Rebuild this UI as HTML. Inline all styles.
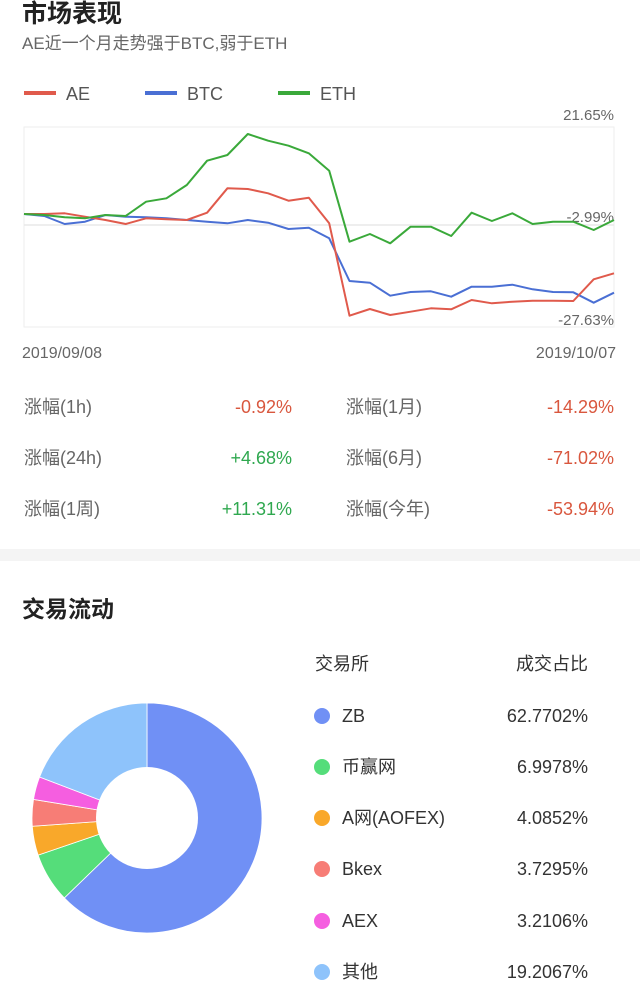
<!DOCTYPE html>
<html><head><meta charset="utf-8"><style>
body{margin:0;width:640px;height:983px;background:#fff;overflow:hidden;font-family:"Liberation Sans","Noto Sans CJK SC",sans-serif;}
svg{position:absolute;left:0;top:0}
</style></head><body>
<svg id="s" width="640" height="983" xmlns="http://www.w3.org/2000/svg" font-family="Liberation Sans, Noto Sans CJK SC, sans-serif">
<text x="22" y="22" font-size="25" font-weight="bold" fill="#222">市场表现</text>
<text x="22" y="49" font-size="17" fill="#666">AE近一个月走势强于BTC,弱于ETH</text>
<rect x="24" y="91" width="32" height="4" fill="#e05a4c"/><text x="66" y="100" font-size="18" fill="#555">AE</text>
<rect x="145" y="91" width="32" height="4" fill="#4a6fd4"/><text x="187" y="100" font-size="18" fill="#555">BTC</text>
<rect x="278" y="91" width="32" height="4" fill="#3aa93a"/><text x="320" y="100" font-size="18" fill="#555">ETH</text>
<text x="614" y="120" font-size="15" fill="#666" text-anchor="end">21.65%</text>
<rect x="24" y="127" width="590" height="200" fill="none" stroke="#eee" stroke-width="1"/>
<line x1="24" y1="225" x2="614" y2="225" stroke="#e8e8e8" stroke-width="1.5"/>
<text x="614" y="222" font-size="15" fill="#666" text-anchor="end">-2.99%</text>
<text x="614" y="325" font-size="15" fill="#666" text-anchor="end">-27.63%</text>
<g id="lines" fill="none" stroke-width="2" stroke-linejoin="round"></g>
<text x="22" y="358" font-size="16" fill="#666">2019/09/08</text>
<text x="616" y="358" font-size="16" fill="#666" text-anchor="end">2019/10/07</text>
<g font-size="18">
<text x="24" y="413" fill="#666">涨幅(1h)</text><text x="292" y="413" fill="#d9573e" text-anchor="end">-0.92%</text>
<text x="346" y="413" fill="#666">涨幅(1月)</text><text x="614" y="413" fill="#d9573e" text-anchor="end">-14.29%</text>
<text x="24" y="464" fill="#666">涨幅(24h)</text><text x="292" y="464" fill="#2fa84f" text-anchor="end">+4.68%</text>
<text x="346" y="464" fill="#666">涨幅(6月)</text><text x="614" y="464" fill="#d9573e" text-anchor="end">-71.02%</text>
<text x="24" y="515" fill="#666">涨幅(1周)</text><text x="292" y="515" fill="#2fa84f" text-anchor="end">+11.31%</text>
<text x="346" y="515" fill="#666">涨幅(今年)</text><text x="614" y="515" fill="#d9573e" text-anchor="end">-53.94%</text>
</g>
<rect x="0" y="549" width="640" height="12" fill="#f4f4f4"/>
<text x="22" y="617" font-size="23" font-weight="bold" fill="#222">交易流动</text>
<g id="donut"></g>
<circle cx="147" cy="818" r="51" fill="#fff"/>
<g font-size="18" fill="#333">
<text x="315" y="670">交易所</text><text x="588" y="670" text-anchor="end">成交占比</text>
<circle cx="322" cy="716" r="8" fill="#7090f5"/><text x="342" y="722">ZB</text><text x="588" y="722" text-anchor="end">62.7702%</text>
<circle cx="322" cy="767" r="8" fill="#55dd7a"/><text x="342" y="773">币赢网</text><text x="588" y="773" text-anchor="end">6.9978%</text>
<circle cx="322" cy="818" r="8" fill="#f9a82a"/><text x="342" y="824">A网(AOFEX)</text><text x="588" y="824" text-anchor="end">4.0852%</text>
<circle cx="322" cy="869" r="8" fill="#f77d76"/><text x="342" y="875">Bkex</text><text x="588" y="875" text-anchor="end">3.7295%</text>
<circle cx="322" cy="921" r="8" fill="#f55ee0"/><text x="342" y="927">AEX</text><text x="588" y="927" text-anchor="end">3.2106%</text>
<circle cx="322" cy="972" r="8" fill="#8ec3fb"/><text x="342" y="978">其他</text><text x="588" y="978" text-anchor="end">19.2067%</text>
</g>
</svg>
<script>
var NS="http://www.w3.org/2000/svg";
var g=[402,405,412,415,405,408,365,355,315,242,225,162,182,197,220,272,485,462,490,440,440,468,398,423,400,432,425,425,450,420];
var r=[402,402,400,410,420,432,415,418,420,398,325,327,340,362,353,430,707,687,705,695,685,688,660,670,665,662,662,663,598,580];
var b=[402,408,432,425,405,410,412,415,420,425,430,420,428,447,443,475,603,608,647,636,634,650,620,620,614,628,636,637,668,638];
function pl(a,c){var p=a.map(function(v,i){return (24+i*590/29).toFixed(1)+","+(v/3+80).toFixed(1)}).join(" ");
var e=document.createElementNS(NS,"polyline");e.setAttribute("points",p);e.setAttribute("stroke",c);document.getElementById("lines").appendChild(e);}
pl(b,"#4a6fd4");pl(r,"#e05a4c");pl(g,"#3aa93a");
var d=[[62.7702,"#7090f5"],[6.9978,"#55dd7a"],[4.0852,"#f9a82a"],[3.7295,"#f77d76"],[3.2106,"#f55ee0"],[19.2067,"#8ec3fb"]];
var cx=147,cy=818,R=115,a0=0;
d.forEach(function(s){var a1=a0+s[0]/100*2*Math.PI;
var x0=cx+R*Math.sin(a0),y0=cy-R*Math.cos(a0),x1=cx+R*Math.sin(a1),y1=cy-R*Math.cos(a1);
var p=document.createElementNS(NS,"path");
p.setAttribute("d","M"+cx+","+cy+"L"+x0+","+y0+"A"+R+","+R+" 0 "+((a1-a0)>Math.PI?1:0)+" 1 "+x1+","+y1+"Z");
p.setAttribute("fill",s[1]);p.setAttribute("stroke","#fff");p.setAttribute("stroke-width","0.8");
document.getElementById("donut").appendChild(p);a0=a1;});
</script>
</body></html>
